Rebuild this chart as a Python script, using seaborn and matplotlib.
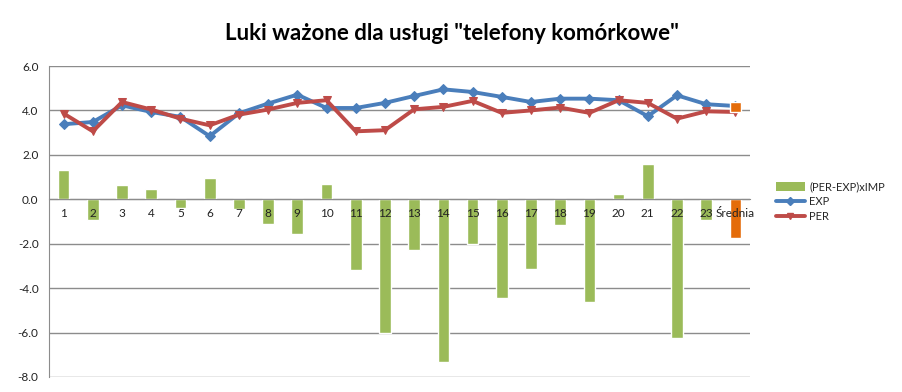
import matplotlib
matplotlib.use("Agg")
import matplotlib.pyplot as plt
import seaborn as sns
import pandas as pd
from matplotlib.patches import Patch
from matplotlib.lines import Line2D
from matplotlib.ticker import FixedLocator, FormatStrFormatter

categories = [str(i) for i in range(1, 24)] + ["Średnia"]
gap = [1.30, -0.92, 0.63, 0.45, -0.39, 0.96, -0.43, -1.12, -1.58, 0.68,
       -3.20, -6.03, -2.30, -7.34, -2.03, -4.46, -3.15, -1.17, -4.64, 0.23,
       1.58, -6.24, -0.95, -1.74]
exp = [3.38, 3.48, 4.23, 3.93, 3.71, 2.84, 3.87, 4.31, 4.71, 4.11,
       4.11, 4.34, 4.65, 4.95, 4.83, 4.61, 4.38, 4.53, 4.53, 4.46,
       3.74, 4.68, 4.28, 4.20]
per = [3.86, 3.06, 4.38, 4.04, 3.63, 3.33, 3.81, 4.04, 4.34, 4.46,
       3.06, 3.11, 4.05, 4.16, 4.43, 3.89, 4.00, 4.13, 3.89, 4.46,
       4.34, 3.63, 3.96, 3.93]
avg_marker_low, avg_marker_high = 3.93, 4.40

GREEN = "#9BBB59"
ORANGE = "#E46C0A"
BLUE = "#4A7EBB"
RED = "#BE4B48"
GRID = "#8C8C8C"

sns.set_style("white")
plt.rcParams["font.family"] = ["Lato", "DejaVu Sans"]

df = pd.DataFrame({"cat": categories, "gap": gap, "exp": exp, "per": per})
df["pos"] = range(len(df))

fig = plt.figure(figsize=(9.03, 3.92), dpi=100)
ax = fig.add_axes([0.0543, 0.0383, 0.7763, 0.7933])

colors = [GREEN] * (len(categories) - 1) + [ORANGE]
sns.barplot(data=df, x="cat", y="gap", hue="cat", palette=colors, legend=False,
            width=0.4, ax=ax, zorder=2, saturation=1)
ax.bar([len(categories) - 1], [avg_marker_high - avg_marker_low],
       bottom=[avg_marker_low], width=0.4, color=ORANGE, zorder=4)

sns.lineplot(data=df, x="pos", y="exp", color=BLUE, lw=2.8, marker="D",
             markersize=5, markeredgecolor=BLUE, ax=ax, zorder=3)
sns.lineplot(data=df, x="pos", y="per", color=RED, lw=2.8, marker="v",
             markersize=6, markeredgecolor=RED, ax=ax, zorder=3)

ax.set_ylim(-8, 6)
ax.set_xlim(-0.5, len(categories) - 0.5)
ax.yaxis.set_major_locator(FixedLocator([-8, -6, -4, -2, 0, 2, 4, 6]))
ax.yaxis.set_major_formatter(FormatStrFormatter("%.1f"))
ax.grid(axis="y", color=GRID, lw=1.0, zorder=0)
ax.set_axisbelow(True)
ax.set_xlabel("")
ax.set_ylabel("")

for s in ["top", "right"]:
    ax.spines[s].set_visible(False)
ax.spines["left"].set_color(GRID)
ax.spines["bottom"].set_color(GRID)
ax.spines["bottom"].set_position(("data", 0))

ax.set_xticks(range(len(categories)))
ax.set_xticklabels([])
ax.set_xticks([i - 0.5 for i in range(len(categories) + 1)], minor=True)
ax.tick_params(axis="x", which="major", length=0)
ax.tick_params(axis="x", which="minor", length=4, color=GRID, direction="out")
ax.tick_params(axis="y", length=4, color=GRID, direction="out", labelsize=8.5, colors="#222222")

# category labels drawn over the bars, just below the zero line
for i, c in enumerate(categories):
    ax.text(i, -0.38, c, ha="center", va="top", fontsize=8.5, color="#222222", zorder=6)

fig.text(0.5, 0.915, 'Luki ważone dla usługi "telefony komórkowe"', ha="center",
         va="center", fontsize=16, fontweight="bold", color="black")

handles = [Patch(facecolor=GREEN, edgecolor="none"),
           Line2D([0], [0], color=BLUE, lw=2.8, marker="D", markersize=4),
           Line2D([0], [0], color=RED, lw=2.8, marker="v", markersize=5)]
fig.legend(handles, ["(PER-EXP)xIMP", "EXP", "PER"], loc="center left",
           bbox_to_anchor=(0.848, 0.485), frameon=False, fontsize=8,
           handlelength=2.6, handleheight=0.8, labelspacing=0.35, handletextpad=0.4)

fig.savefig("out.png", dpi=100)
